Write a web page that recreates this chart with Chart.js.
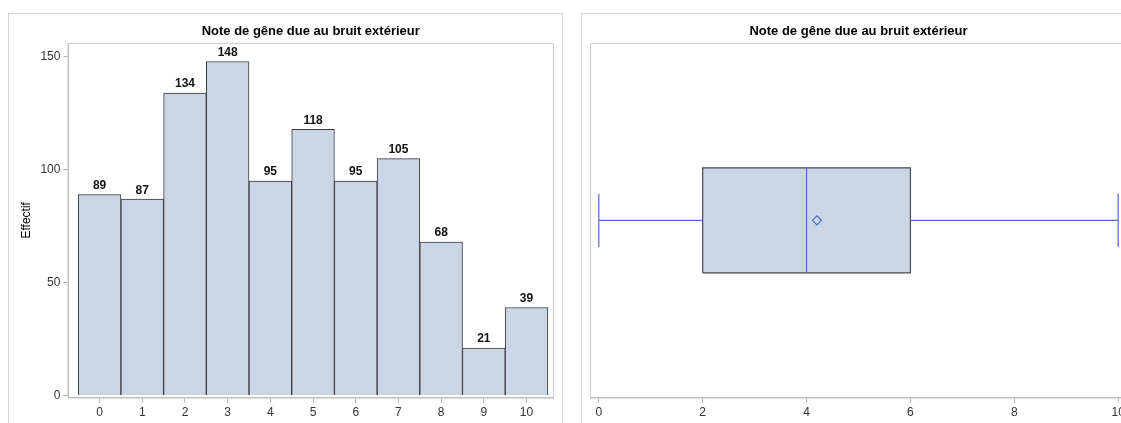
<!DOCTYPE html>
<html lang="fr">
<head>
<meta charset="UTF-8">
<title>Note de gêne due au bruit extérieur</title>
<script src="https://cdn.jsdelivr.net/npm/chart.js"></script>
<style>
  html, body { margin: 0; padding: 0; background: #fff; overflow: hidden; }
  body { width: 1121px; height: 423px; position: relative; }
  .panel { position: absolute; top: 13px; height: 430px; border: 1px solid #d6d6d6; border-bottom: none; }
  #left { left: 8px; width: 553px; }
  #right { left: 581px; width: 558px; }
</style>
</head>
<body>
<div class="panel" id="left"><canvas id="histo"></canvas></div>
<div class="panel" id="right"><canvas id="boite"></canvas></div>

<script>
// données
const titre = "Note de gêne due au bruit extérieur";
const notes = [0, 1, 2, 3, 4, 5, 6, 7, 8, 9, 10];
const effectifs = [89, 87, 134, 148, 95, 118, 95, 105, 68, 21, 39];
// min, Q1, médiane, Q3, max
const quartiles = [0, 2, 4, 6, 10];
const moyenne = [4.2];

const FONT = "Arial, 'Liberation Sans', sans-serif";
const FILL = "#cad5e6";
const EDGE = "#3a3a3a";
const BLUE = "#4a6fc4";
const AXIS = "#b4b4b4";

Chart.defaults.font.family = FONT;
Chart.defaults.animation = false;

// cadre + titre centrés sur la zone de tracé
const cadre = {
  id: "cadre",
  beforeDatasetsDraw(chart) {
    const a = chart.chartArea, ctx = chart.ctx;
    ctx.save();
    ctx.strokeStyle = "#cfcfcf";
    ctx.lineWidth = 1;
    ctx.strokeRect(a.left - 0.5, a.top + 0.5, a.right - a.left + 1, a.bottom - a.top);
    ctx.restore();
  },
  afterDraw(chart) {
    const a = chart.chartArea, ctx = chart.ctx;
    ctx.save();
    ctx.font = "bold 13px " + FONT;
    ctx.fillStyle = "#000";
    ctx.textAlign = "center";
    ctx.textBaseline = "middle";
    ctx.fillText(titre, (a.left + a.right) / 2, 17);
    ctx.restore();
  }
};

// étiquettes au-dessus des barres
const etiquettes = {
  id: "etiquettes",
  afterDatasetsDraw(chart) {
    const ctx = chart.ctx;
    const meta = chart.getDatasetMeta(0);
    ctx.save();
    ctx.font = "bold 12px " + FONT;
    ctx.fillStyle = "#111";
    ctx.textAlign = "center";
    ctx.textBaseline = "bottom";
    meta.data.forEach((bar, i) => {
      ctx.fillText(effectifs[i], bar.x, bar.y - 3);
    });
    ctx.restore();
  }
};

const tickFont = { size: 12 };

new Chart(document.getElementById("histo"), {
  type: "bar",
  data: {
    datasets: [{
      data: notes.map((n, i) => ({ x: n, y: effectifs[i] })),
      backgroundColor: FILL,
      borderColor: EDGE,
      borderWidth: 1,
      barPercentage: 1,
      categoryPercentage: 1
    }]
  },
  options: {
    responsive: true,
    maintainAspectRatio: false,
    layout: { padding: { top: 29, left: 6, right: 9, bottom: 21 } },
    plugins: { legend: { display: false }, tooltip: { enabled: false } },
    scales: {
      x: {
        type: "linear",
        offset: false,
        min: -0.73,
        max: 10.62,
        ticks: { stepSize: 1, includeBounds: false, color: "#333", font: tickFont, padding: 3 },
        grid: { offset: false, drawOnChartArea: false, tickLength: 5, color: AXIS },
        border: { color: AXIS }
      },
      y: {
        min: -0.9,
        max: 156.2,
        ticks: { stepSize: 50, includeBounds: false, color: "#333", font: tickFont, padding: 3 },
        grid: { drawOnChartArea: false, tickLength: 5, color: AXIS },
        border: { color: AXIS },
        title: { display: true, text: "Effectif", color: "#000", font: { size: 12 } }
      }
    }
  },
  plugins: [cadre, etiquettes]
});

// boîte à moustaches
const BOX = 0.148, CAP = 0.075, MID = 0.5;
const [qMin, q1, med, q3, qMax] = quartiles;
const ligne = (pts, color) => ({
  data: pts, showLine: true, borderColor: color, borderWidth: 1.2,
  pointRadius: 0, fill: false
});

new Chart(document.getElementById("boite"), {
  type: "scatter",
  data: {
    datasets: [
      {
        data: [{ x: moyenne[0], y: MID }],
        pointStyle: "rectRot", pointRadius: 4.5, borderWidth: 1.2,
        borderColor: BLUE, backgroundColor: "rgba(0,0,0,0)"
      },
      ligne([{ x: med, y: MID - BOX }, { x: med, y: MID + BOX }], BLUE),
      ligne([{ x: qMin, y: MID }, { x: q1, y: MID }], BLUE),
      ligne([{ x: q3, y: MID }, { x: qMax, y: MID }], BLUE),
      ligne([{ x: qMin, y: MID - CAP }, { x: qMin, y: MID + CAP }], BLUE),
      ligne([{ x: qMax, y: MID - CAP }, { x: qMax, y: MID + CAP }], BLUE),
      {
        data: [
          { x: q1, y: MID - BOX }, { x: q3, y: MID - BOX },
          { x: q3, y: MID + BOX }, { x: q1, y: MID + BOX },
          { x: q1, y: MID - BOX }
        ],
        showLine: true, fill: "shape", backgroundColor: FILL,
        borderColor: "#4a4a4a", borderWidth: 1.2, pointRadius: 0
      }
    ]
  },
  options: {
    responsive: true,
    maintainAspectRatio: false,
    layout: { padding: { top: 29, left: 9, right: 14, bottom: 21 } },
    plugins: { legend: { display: false }, tooltip: { enabled: false } },
    scales: {
      x: {
        type: "linear",
        min: -0.15,
        max: 10.15,
        ticks: { stepSize: 2, includeBounds: false, color: "#333", font: tickFont, padding: 3 },
        grid: { drawOnChartArea: false, tickLength: 5, color: AXIS },
        border: { color: AXIS }
      },
      y: { display: false, min: 0, max: 1 }
    }
  },
  plugins: [cadre]
});
</script>
</body>
</html>
